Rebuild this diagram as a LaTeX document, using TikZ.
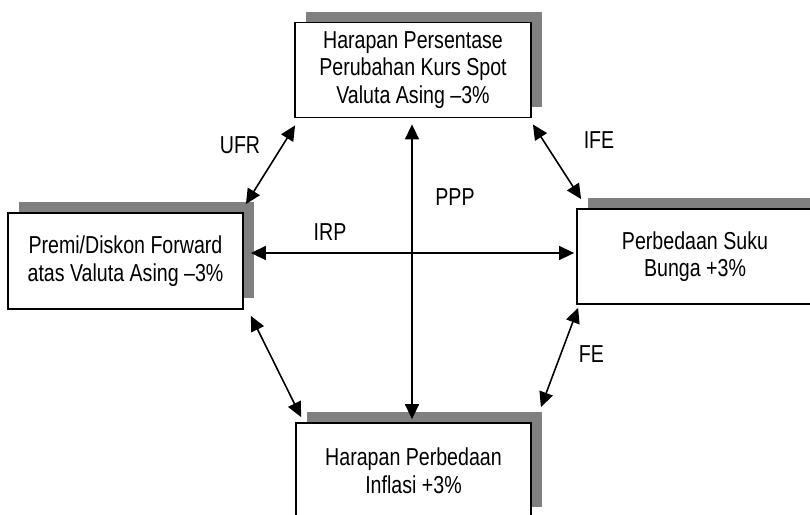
\documentclass[tikz,border=0pt]{standalone}
\usepackage{fontspec}
\setmainfont[FakeStretch=0.8]{Liberation Sans}
\usetikzlibrary{arrows.meta,shadows}
\definecolor{shadowgray}{RGB}{128,128,128}
\tikzset{
  box/.style={draw=black, line width=1.8pt, fill=white, inner sep=0pt,
    minimum width=236pt, minimum height=95pt, align=center,
    font=\fontsize{24.5}{27.5}\selectfont,
    drop shadow={shadow xshift=11pt, shadow yshift=11pt, fill=shadowgray, opacity=1}},
  lbl/.style={anchor=base, inner sep=0pt, font=\fontsize{24.5}{27.5}\selectfont},
  arr/.style={line width=1.6pt, {Triangle[length=15pt,width=14pt]}-{Triangle[length=15pt,width=14pt]}}
}
\begin{document}
\begin{tikzpicture}[x=1pt,y=-1pt]
\useasboundingbox (0,0) rectangle (810,514);
\clip (0,0) rectangle (810,514);
\node[box] (top) at (413,70) {Harapan Persentase\\Perubahan Kurs Spot\\Valuta Asing --3\%};
\node[box, minimum width=235pt, minimum height=96pt] (lft) at (125.5,261) {Premi/Diskon Forward\\atas Valuta Asing --3\%};
\node[box] (rgt) at (695,256.5) {Perbedaan Suku\\Bunga +3\%};
\node[box, minimum width=235pt] (bot) at (413.5,470.5) {Harapan Perbedaan\\Inflasi +3\%};
\draw[arr] ([shift={(2,-8)}]lft.north east) -- ([shift={(1,7)}]top.south west);
\draw[arr] ([shift={(1,6)}]top.south east) -- ([shift={(5,-9)}]rgt.north west);
\draw[arr] ([shift={(-1,6)}]top.south) -- ([shift={(-1.5,-3)}]bot.north);
\draw[arr] ([shift={(7,-8)}]lft.east) -- ([shift={(-2,-3.5)}]rgt.west);
\draw[arr] ([shift={(7,6)}]lft.south east) -- ([shift={(6,-5)}]bot.north west);
\draw[arr] ([shift={(2,3)}]rgt.south west) -- ([shift={(9,-15)}]bot.north east);
\node[lbl] (ufr) at (240,153) {UFR};
\node[lbl] (ife) at (599,148) {IFE};
\node[lbl] (ppp) at (455,205) {PPP};
\node[lbl] (irp) at (330,240) {IRP};
\node[lbl] (fe) at (591.5,362) {FE};
\end{tikzpicture}
\end{document}
